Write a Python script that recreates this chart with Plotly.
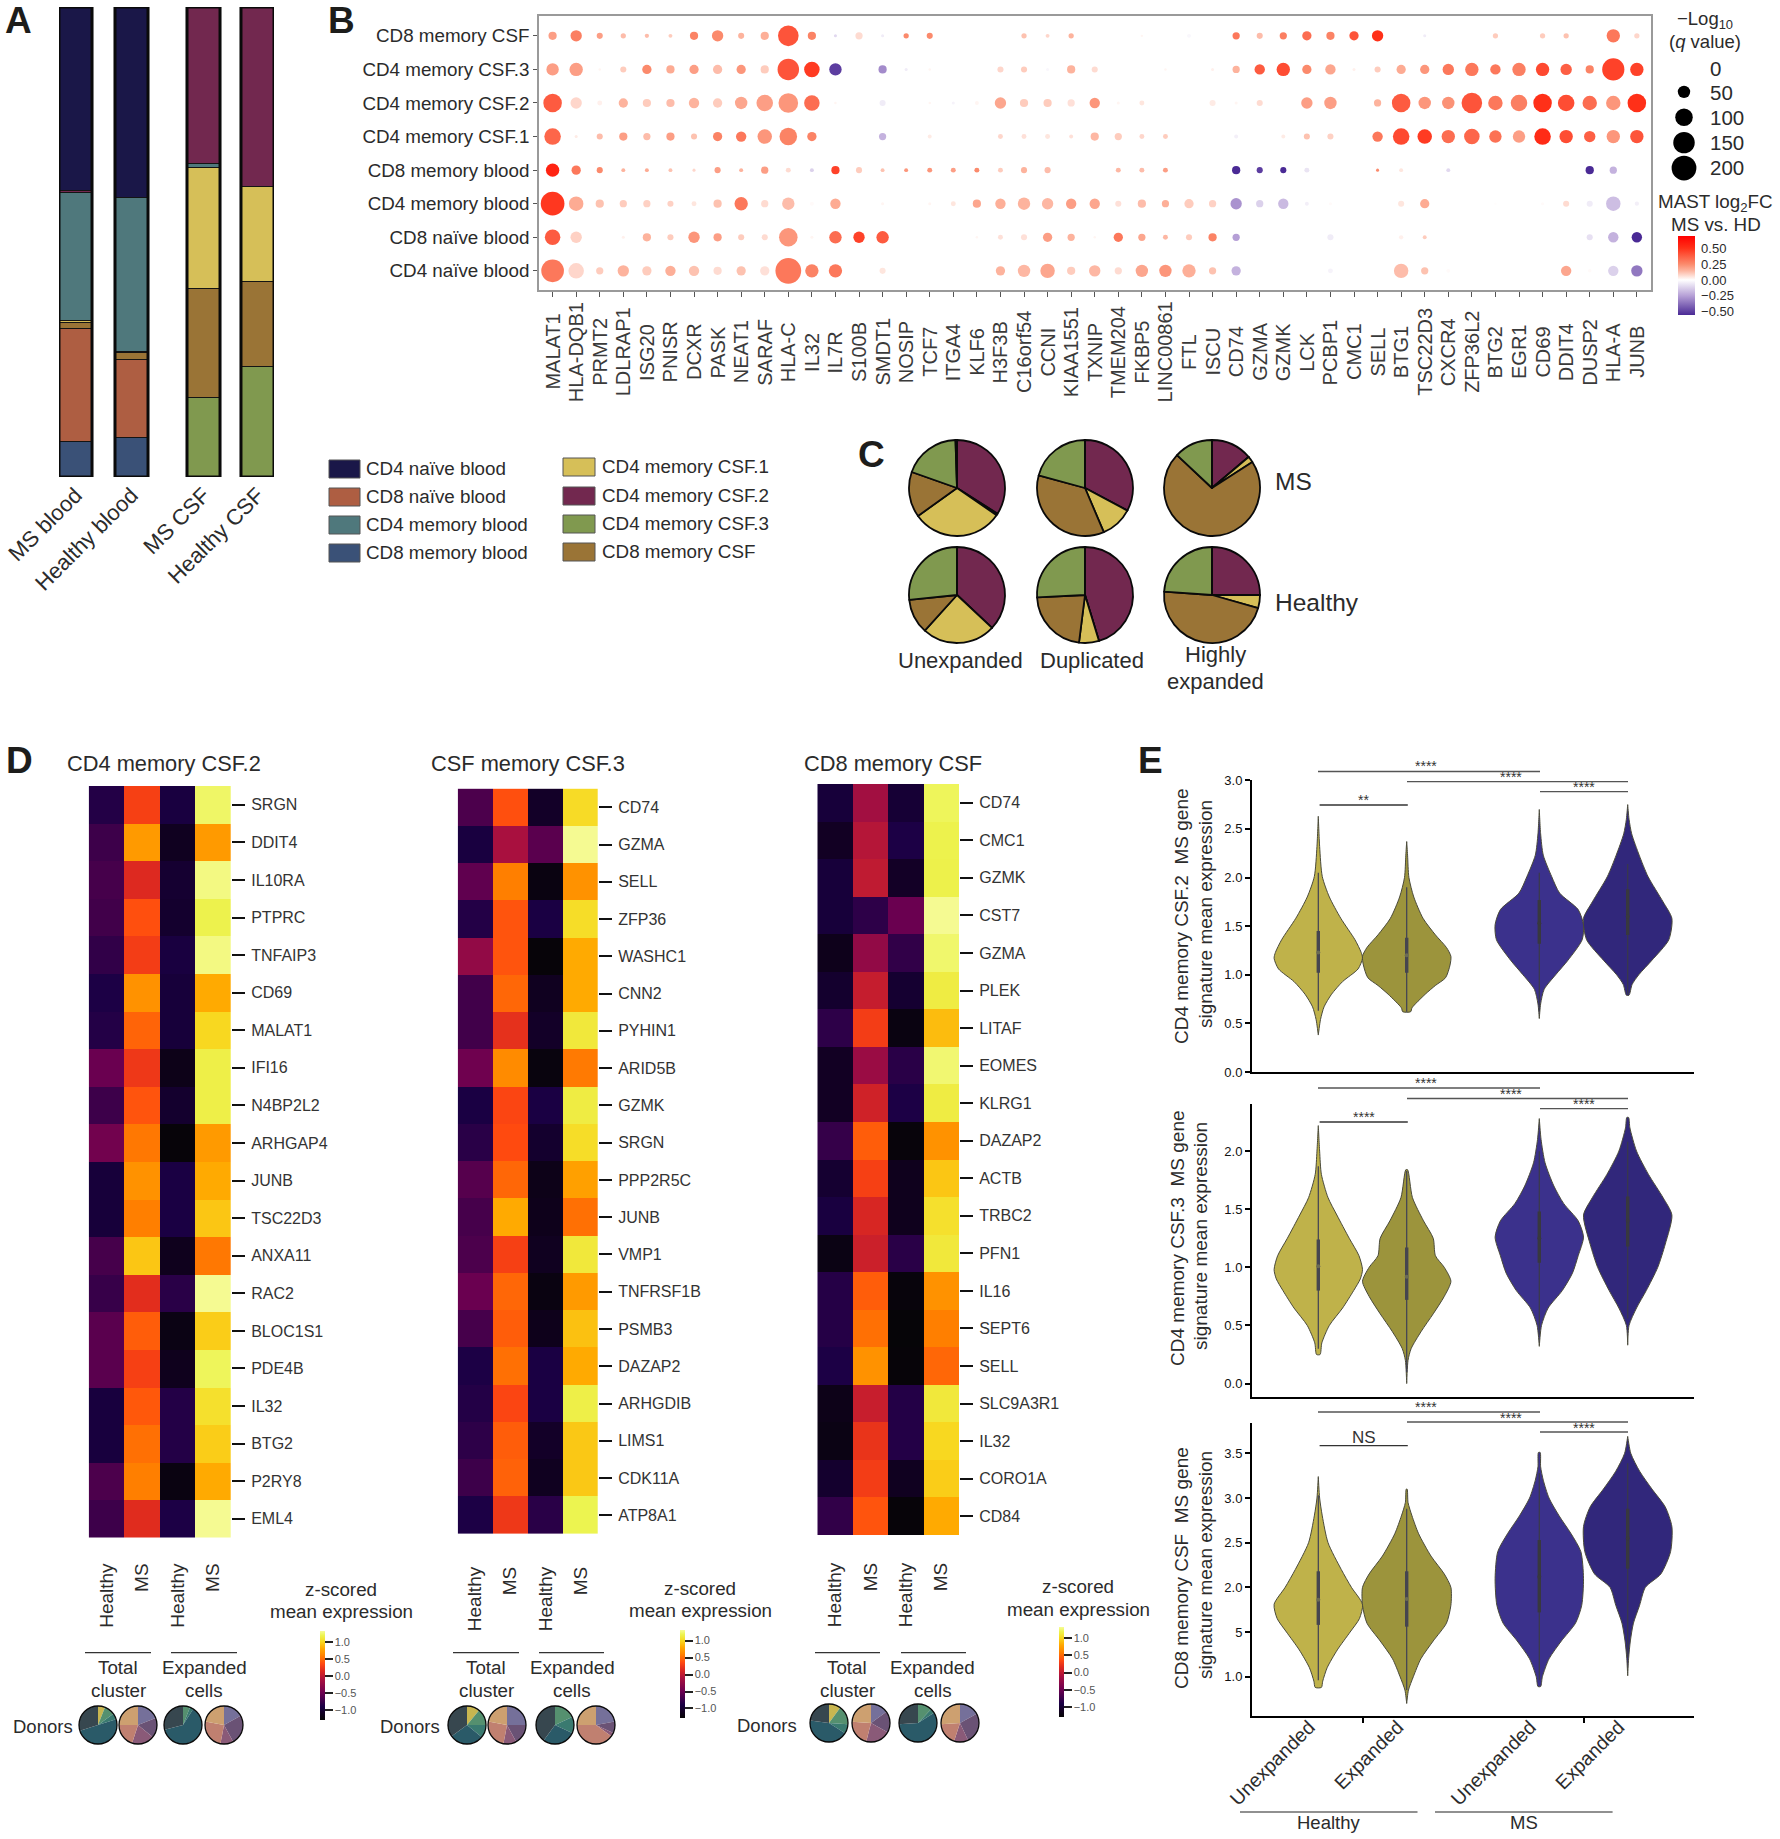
import plotly.graph_objects as go

W, H = 1780, 1839
FONT = "Liberation Sans, Arial, sans-serif"
INK = "#2b2b2b"

# ---------- Panel A ----------
sample_names = ["MS blood", "Healthy blood", "MS CSF", "Healthy CSF"]
sample_pos = [0, 1, 2.286, 3.25]
cluster_stack = ["CD4 memory CSF.3", "CD8 memory blood", "CD8 naïve blood", "CD8 memory CSF",
                 "CD4 memory CSF.1", "CD4 memory blood", "CD4 memory CSF.2", "CD4 naïve blood"]
share_csf3 = [0, 0, 16.8, 23.5]
share_cd8mem_blood = [7.4, 8.2, 0, 0]
share_cd8naive = [24.1, 16.8, 0, 0]
share_cd8csf = [1.3, 1.3, 23.1, 17.9]
share_csf1 = [0.3, 0.3, 25.9, 20.4]
share_cd4mem_blood = [27.4, 32.7, 0.8, 0]
share_csf2 = [0.4, 0, 33.4, 38.2]
share_cd4naive = [39.1, 40.7, 0, 0]
cluster_colors = {"CD4 naïve blood": "#1a1748", "CD8 naïve blood": "#ae5e42", "CD4 memory blood": "#4f787c",
                  "CD8 memory blood": "#3a5177", "CD4 memory CSF.1": "#d6bf58", "CD4 memory CSF.2": "#72284f",
                  "CD4 memory CSF.3": "#80994f", "CD8 memory CSF": "#9a7436"}

# ---------- Panel B ----------
dot_genes = ["MALAT1", "HLA-DQB1", "PRMT2", "LDLRAP1", "ISG20", "PNISR", "DCXR", "PASK", "NEAT1", "SARAF",
             "HLA-C", "IL32", "IL7R", "S100B", "SMDT1", "NOSIP", "TCF7", "ITGA4", "KLF6", "H3F3B",
             "C16orf54", "CCNI", "KIAA1551", "TXNIP", "TMEM204", "FKBP5", "LINC00861", "FTL", "ISCU", "CD74",
             "GZMA", "GZMK", "LCK", "PCBP1", "CMC1", "SELL", "BTG1", "TSC22D3", "CXCR4", "ZFP36L2",
             "BTG2", "EGR1", "CD69", "DDIT4", "DUSP2", "HLA-A", "JUNB"]
dot_rows = ["CD4 naïve blood", "CD8 naïve blood", "CD4 memory blood", "CD8 memory blood",
            "CD4 memory CSF.1", "CD4 memory CSF.2", "CD4 memory CSF.3", "CD8 memory CSF"]
q_cd8csf = [22,42,12,9,6,5,22,42,12,22, 138,22,3,17,3,9,12,0,0,0, 9,5,9,0,0,1,0,5,0,17, 12,17,28,22,28,42,0,3,0,0, 9,0,9,9,0,58,9]
fc_cd8csf = [.2,.28,.2,.13,.13,.1,.27,.25,.15,.16, .4,.27,-.1,.07,-.05,.25,.25,0,0,0, .12,.08,.15,0,0,.02,0,-.02,0,.3, .13,.28,.33,.27,.4,.5,0,-.05,0,0, .1,0,.1,.12,0,.3,.08]
q_csf3 = [50,58,2,12,28,22,28,28,28,22, 150,78,50,0,22,3,2,0,0,12, 12,3,22,12,0,0,2,0,3,17, 35,58,28,35,3,12,28,28,42,58, 35,58,58,42,22,160,58]
fc_csf3 = [.2,.2,.02,.1,.25,.17,.2,.13,.22,.1, .4,.47,-.5,0,-.3,-.05,.02,0,0,.08, .1,-.02,.15,.07,0,0,.02,0,.03,.15, .38,.42,.25,.18,.03,.1,.17,.22,.3,.3, .3,.28,.43,.37,.27,.45,.45]
q_csf2 = [112,42,8,28,22,22,35,28,50,89, 125,78,2,0,12,0,2,3,5,42, 22,22,17,35,3,8,0,0,12,3, 12,0,42,50,0,17,112,50,50,138, 68,89,112,89,68,68,112]
fc_csf2 = [.38,.08,.03,.15,.1,.13,.15,.1,.18,.2, .22,.33,.02,0,-.05,0,.02,-.03,.02,.18, .1,.1,.06,.22,.02,.05,0,0,.04,.02, .07,0,.2,.2,0,.15,.38,.22,.23,.4, .3,.28,.5,.42,.33,.22,.5]
q_csf1 = [89,3,12,22,17,22,12,28,35,68, 100,28,0,0,17,0,5,0,0,8, 8,8,5,22,17,8,8,0,0,5, 0,5,12,12,0,35,89,68,58,78, 50,50,89,58,42,58,58]
fc_csf1 = [.35,.04,.13,.2,.13,.2,.12,.27,.3,.22, .27,.27,0,0,-.2,0,.04,0,0,.08, .06,.05,.06,.14,.1,.08,.1,0,0,-.04, 0,.04,.12,.09,0,.3,.43,.47,.33,.35, .32,.2,.52,.42,.37,.22,.4]
q_cd8memb = [58,28,12,5,5,5,3,12,5,17, 8,5,22,12,5,5,8,8,8,8, 12,12,0,0,8,8,8,0,0,22, 12,12,8,0,0,3,5,0,5,0, 0,0,0,0,22,17,0]
fc_cd8memb = [.55,.3,.25,.15,.17,.12,.08,.2,.15,.2, .07,-.12,.45,.1,.12,.22,.22,.2,.25,.1, .15,.13,0,0,.14,.13,.2,0,0,-.55, -.5,-.55,-.07,0,0,.25,.05,0,-.1,0, 0,0,0,0,-.58,-.2,0]
q_cd4memb = [183,68,22,17,17,12,8,22,58,17, 50,5,35,0,3,0,3,8,22,35, 50,42,35,35,12,22,17,28,17,42, 17,35,5,3,0,0,12,28,0,0, 1,0,3,12,12,68,6]
fc_cd4memb = [.48,.17,.12,.1,.09,.09,.05,.12,.3,.07, .13,.01,.17,0,.02,0,.02,.05,.18,.16, .15,.14,.2,.18,.06,.13,.16,.1,.09,-.28, -.12,-.18,-.04,.01,0,0,.05,.17,0,0, .005,0,.01,.07,-.05,-.17,-.04]
q_cd8nv = [78,42,0,3,22,12,42,22,12,12, 112,3,50,42,50,0,0,0,2,8, 12,28,17,2,28,17,8,12,22,17, 0,0,0,12,0,0,6,5,0,0, 0,0,0,0,12,35,35]
fc_cd8nv = [.38,.09,0,.03,.15,.1,.22,.2,.1,.07, .22,.02,.33,.45,.38,0,0,0,.02,.06, .06,.2,.15,.02,.3,.18,.14,.1,.27,-.25, 0,0,0,-.05,0,0,.03,.1,0,0, 0,0,0,0,-.08,-.2,-.55]
q_cd4nv = [167,78,17,42,28,35,35,22,28,28, 216,58,58,0,12,0,0,0,0,28, 50,68,22,42,17,50,50,58,17,28, 0,0,0,8,0,0,68,17,5,0, 0,0,0,35,4,35,42]
fc_cd4nv = [.3,.08,.1,.15,.1,.16,.12,.07,.12,.06, .3,.27,.3,0,.05,0,0,0,0,.15, .14,.18,.1,.14,.07,.18,.22,.16,.12,-.2, 0,0,0,-.03,0,0,.13,.12,.01,0, 0,0,0,.18,.01,-.12,-.35]
size_legend_q = [0, 50, 100, 150, 200]
fc_colorscale = [[0, "#4a2a95"], [.242, "#b59fd6"], [.444, "#ffffff"], [.56, "#fdb5a0"], [.645, "#fb8a6c"], [.847, "#ff3018"], [1, "#ff0000"]]

# ---------- Panel C ----------
pie_clusters = ["CD4 memory CSF.2", "CD4 memory blood", "CD4 memory CSF.1", "CD8 memory CSF", "CD4 memory CSF.3", "CD4 naïve blood"]
pie_ms_unexp = [34.0, 0.6, 30.5, 15.3, 19.1, 0.5]
pie_ms_dup = [32.8, 0, 10.8, 35.6, 20.8, 0]
pie_ms_high = [13.8, 0, 2.1, 71.1, 13.0, 0]
pie_hc_unexp = [37.0, 0, 24.7, 11.7, 26.6, 0]
pie_hc_dup = [45.3, 0, 6.7, 22.2, 25.8, 0]
pie_hc_high = [25.0, 0, 4.4, 46.7, 23.9, 0]

# ---------- Panel D ----------
heat_cols = ["Healthy", "MS", "Healthy", "MS"]
genes_csf2 = ["SRGN","DDIT4","IL10RA","PTPRC","TNFAIP3","CD69","MALAT1","IFI16","N4BP2L2","ARHGAP4",
              "JUNB","TSC22D3","ANXA11","RAC2","BLOC1S1","PDE4B","IL32","BTG2","P2RY8","EML4"]
z_csf2 = [[-.85,.30,-.92,1.22],[-.72,.72,-1.1,.72],[-.68,.15,-1.0,1.27],[-.7,.38,-1.02,1.17],[-.78,.28,-.92,1.27],
          [-.88,.68,-.95,.8],[-.85,.47,-.95,1.0],[-.5,.25,-1.15,1.15],[-.72,.4,-1.02,1.15],[-.45,.55,-1.25,.72],
          [-.95,.68,-.9,.8],[-.95,.58,-.9,.92],[-.68,.92,-1.12,.55],[-.75,.18,-.82,1.3],[-.58,.44,-1.18,.95],
          [-.58,.3,-1.12,1.2],[-.93,.42,-.85,1.05],[-.93,.52,-.85,.95],[-.65,.58,-1.2,.8],[-.72,.17,-.88,1.3]]
genes_csf3 = ["CD74","GZMA","SELL","ZFP36","WASHC1","CNN2","PYHIN1","ARID5B","GZMK","SRGN",
              "PPP2R5C","JUNB","VMP1","TNFRSF1B","PSMB3","DAZAP2","ARHGDIB","LIMS1","CDK11A","ATP8A1"]
z_csf3 = [[-.65,.38,-1.05,1.02],[-.92,-.11,-.58,1.3],[-.55,.58,-1.2,.68],[-.85,.4,-.9,1.03],[-.25,.4,-1.25,.8],
          [-.7,.48,-1.1,.8],[-.7,.2,-1.05,1.1],[-.47,.64,-1.22,.56],[-.9,.33,-.9,1.13],[-.82,.36,-1.02,1.03],
          [-.6,.48,-1.15,.75],[-.68,.8,-1.13,.52],[-.65,.3,-1.1,1.1],[-.5,.48,-1.2,.72],[-.68,.44,-1.13,.9],
          [-.88,.52,-.9,.8],[-.85,.33,-.9,1.15],[-.8,.44,-1.05,.93],[-.72,.46,-1.1,.93],[-.88,.25,-.82,1.18]]
genes_cd8 = ["CD74","CMC1","GZMK","CST7","GZMA","PLEK","LITAF","EOMES","KLRG1","DAZAP2",
             "ACTB","TRBC2","PFN1","IL16","SEPT6","SELL","SLC9A3R1","IL32","CORO1A","CD84"]
z_cd8 = [[-.95,-.15,-.98,1.2],[-1.08,-.05,-.88,1.17],[-.95,.0,-1.06,1.16],[-.95,-.8,-.5,1.3],[-1.13,-.25,-.78,1.23],
         [-1.02,.03,-1.0,1.13],[-.8,.28,-1.2,.88],[-1.08,-.2,-.82,1.24],[-1.08,.08,-.88,1.13],[-.76,.44,-1.24,.68],
         [-1.0,.3,-1.12,.92],[-.92,.12,-1.12,1.05],[-1.18,.06,-.82,1.1],[-.84,.44,-1.23,.68],[-.84,.52,-1.26,.58],
         [-.88,.68,-1.25,.48],[-1.15,.04,-.85,1.1],[-1.18,.22,-.85,1.0],[-1.02,.28,-1.1,.95],[-.78,.4,-1.25,.8]]
heat_colorscale = [[0, "#050505"], [.08, "#120024"], [.15, "#1a0045"], [.3, "#6a0050"], [.45, "#a81040"],
                   [.55, "#dc2820"], [.63, "#ff4810"], [.72, "#ff8000"], [.8, "#ffa800"], [.88, "#f8d820"],
                   [.95, "#ecf450"], [1, "#f6fb98"]]
donor_h_colors = ["#c8b650", "#55906f", "#3a7a70", "#2a5a68", "#37474f"]
donor_m_colors = ["#75709a", "#6a5275", "#8a5a78", "#c08070", "#cda070"]
donors_p1 = [[6, 9, 5, 50, 30], [19, 17, 19, 20, 25], [0, 6, 3, 62, 29], [17, 25, 11, 25, 22]]
donors_p2 = [[11, 14, 11, 29, 35], [25, 17, 11, 25, 22], [0, 18, 14, 28, 40], [22, 10, 3, 40, 25]]
donors_p3 = [[10, 16, 8, 43, 23], [15, 18, 21, 22, 24], [0, 12, 4, 58, 26], [17, 26, 12, 19, 26]]

# ---------- Panel E ----------
violin_pos = [0, 1, 2.5, 3.5]
violin_names = ["Unexpanded", "Expanded", "Unexpanded", "Expanded"]
violin_colors = ["#bfb24a", "#9c943c", "#3b318c", "#31277b"]
whisker_colors = ["#3f3f55", "#3f3f55", "#3a3a4a", "#3a3a4a"]
box_colors = ["#45454f", "#45454f", "#38383f", "#38383f"]
median_colors = ["#6b6b55", "#6b6b55", "#38383f", "#38383f"]
e1_y = [[.38,.54,.67,.8,.93,1.06,1.17,1.23,1.36,1.58,1.8,2.01,2.32,2.63],
        [.62,.66,.8,.89,.97,1.1,1.19,1.28,1.41,1.58,1.8,2.0,2.23,2.37],
        [.55,.7,.85,1.0,1.15,1.36,1.515,1.67,1.84,2.01,2.23,2.45,2.7],
        [.79,.9,1.0,1.15,1.36,1.58,1.75,2.01,2.23,2.45,2.6,2.75]]
e1_w = [[0,.05,.13,.3,.55,.9,1,.97,.83,.51,.25,.09,.03,0],
        [.09,.12,.42,.65,.88,.98,1,.9,.65,.37,.16,.05,.02,0],
        [0,.03,.11,.37,.65,.97,1,.88,.46,.28,.09,.03,0],
        [.03,.1,.25,.55,.93,1,.8,.46,.26,.09,.03,0]]
e1_stats = [[.63,1.02,1.23,1.45,2.05],[.62,1.02,1.2,1.38,1.9],[.63,1.32,1.53,1.77,2.05],[.8,1.41,1.6,1.88,2.14]]
e2_y = [[.25,.35,.5,.65,.8,.9,.98,1.1,1.25,1.45,1.6,1.8,2.0,2.22],
        [0,.2,.3,.45,.6,.75,.88,1.0,1.1,1.25,1.4,1.6,1.84],
        [.32,.5,.65,.8,.95,1.1,1.26,1.4,1.55,1.7,1.9,2.1,2.28],
        [.33,.5,.65,.8,1.0,1.2,1.45,1.6,1.8,2.0,2.2,2.29]]
e2_w = [[.04,.08,.25,.55,.8,.95,1,.92,.7,.42,.22,.07,.03,0],
        [0,.03,.1,.33,.6,.85,1,.85,.65,.6,.38,.13,.02],
        [0,.05,.2,.52,.75,.88,1,.88,.55,.33,.13,.04,0],
        [0,.03,.2,.42,.68,.85,1,.8,.47,.2,.05,.02]]
e2_stats = [[.3,.8,1.01,1.24,1.87],[.1,.72,.92,1.17,1.83],[.42,1.04,1.25,1.48,2.0],[.56,1.18,1.4,1.61,2.08]]
e3_y = [[.88,.95,1.1,1.3,1.5,1.65,1.81,2.0,2.2,2.5,2.8,3.0,3.24],
        [.7,.85,1.0,1.2,1.4,1.6,1.8,2.0,2.15,2.35,2.6,2.8,2.95,3.1],
        [.89,1.0,1.2,1.4,1.6,1.8,2.1,2.4,2.6,2.8,3.0,3.2,3.35,3.51],
        [1.01,1.2,1.4,1.6,1.8,2.0,2.15,2.4,2.68,2.9,3.1,3.3,3.5,3.69]]
e3_w = [[.07,.1,.2,.43,.72,.93,1,.75,.52,.22,.09,.03,0],
        [0,.04,.15,.32,.6,.9,1,1,.85,.55,.27,.12,.03,.01],
        [.03,.07,.22,.5,.82,.96,1,.94,.72,.45,.22,.09,.03,.02],
        [0,.02,.06,.13,.27,.4,.75,.97,1,.85,.55,.27,.07,0]]
e3_stats = [[.96,1.58,1.86,2.18,3.03],[.85,1.56,1.87,2.18,2.88],[.96,1.72,2.12,2.53,3.28],[1.22,2.21,2.55,2.88,3.39]]

# ---------- helpers ----------
fig = go.Figure()
layout = {}
annotations, shapes = [], []
_n = [0]

def new_axes(x0, x1, y0, y1, xopts=None, yopts=None):
    _n[0] += 1
    n = _n[0]
    sx = "" if n == 1 else str(n)
    base = dict(showgrid=False, zeroline=False, showline=False, ticks="", showticklabels=False, fixedrange=True)
    xa = dict(base, domain=[x0 / W, x1 / W], anchor="y" + sx)
    ya = dict(base, domain=[1 - y1 / H, 1 - y0 / H], anchor="x" + sx)
    xa.update(xopts or {})
    ya.update(yopts or {})
    layout["xaxis" + sx] = xa
    layout["yaxis" + sx] = ya
    return "x" + sx, "y" + sx

def text(x, y, s, size=18, anchor="center", angle=0, color=INK, bold=False):
    annotations.append(dict(x=x / W, y=1 - y / H, xref="paper", yref="paper", text=("<b>%s</b>" % s) if bold else s,
                            showarrow=False, xanchor=anchor, yanchor="middle", textangle=angle,
                            font=dict(family=FONT, size=size, color=color)))

def rule(x0, x1, y, color="#333", width=1.2):
    shapes.append(dict(type="line", xref="paper", yref="paper", x0=x0 / W, x1=x1 / W, y0=1 - y / H, y1=1 - y / H,
                       line=dict(color=color, width=width)))

def pie(cx, cy, r, values, colors, lw, labels=None):
    fig.add_trace(go.Pie(values=values, labels=labels or [str(i) for i in range(len(values))], sort=False, direction="clockwise", rotation=0,
                         marker=dict(colors=colors, line=dict(color="#0a0a0a", width=lw)), textinfo="none",
                         hoverinfo="skip", showlegend=False,
                         domain=dict(x=[(cx - r) / W, (cx + r) / W], y=[1 - (cy + r) / H, 1 - (cy - r) / H])))

def ring(cx, cy, r, lw):
    shapes.append(dict(type="circle", xref="paper", yref="paper", x0=(cx - r) / W, x1=(cx + r) / W,
                       y0=1 - (cy + r) / H, y1=1 - (cy - r) / H, line=dict(color="#0a0a0a", width=lw)))

# ---------- draw panel A ----------
xa, ya = new_axes(59, 274, 7, 477,
                  dict(range=[-0.295, 3.545], tickmode="array", tickvals=sample_pos, ticktext=sample_names,
                       showticklabels=True, tickangle=-45, tickfont=dict(family=FONT, size=22, color=INK)),
                  dict(range=[0, 100]))
stack_vals = [share_csf3, share_cd8mem_blood, share_cd8naive, share_cd8csf, share_csf1, share_cd4mem_blood, share_csf2, share_cd4naive]
for name, vals in zip(cluster_stack, stack_vals):
    fig.add_trace(go.Bar(x=sample_pos, y=vals, name=name, width=0.59, marker=dict(color=cluster_colors[name], line=dict(color="#141414", width=1)),
                         xaxis=xa, yaxis=ya, showlegend=False, hoverinfo="skip"))
fig.add_trace(go.Scatter(x=[p for s in sample_pos for p in (s - .295, s + .295, s + .295, s - .295, s - .295, None)],
                         y=[v for s in sample_pos for v in (0, 0, 100, 100, 0, None)], mode="lines", cliponaxis=False,
                         line=dict(color="#0a0a0a", width=3), xaxis=xa, yaxis=ya, showlegend=False, hoverinfo="skip"))

# legend of clusters
leg_left = ["CD4 naïve blood", "CD8 naïve blood", "CD4 memory blood", "CD8 memory blood"]
leg_right = ["CD4 memory CSF.1", "CD4 memory CSF.2", "CD4 memory CSF.3", "CD8 memory CSF"]
for names, x0, x1, tx, ys in ((leg_left, 329, 360, 364, (460, 488, 516, 544)), (leg_right, 563, 595, 599.5, (458, 487, 515, 543))):
    for nm, y in zip(names, ys):
        shapes.append(dict(type="rect", xref="paper", yref="paper", x0=x0 / W, x1=x1 / W, y0=1 - (y + 18) / H, y1=1 - y / H,
                           fillcolor=cluster_colors[nm], line=dict(color="#555", width=1)))
        text(tx, y + 8.5, nm, size=18.8, anchor="left")

# ---------- draw panel B ----------
row_q = [q_cd4nv, q_cd8nv, q_cd4memb, q_cd8memb, q_csf1, q_csf2, q_csf3, q_cd8csf]
row_fc = [fc_cd4nv, fc_cd8nv, fc_cd4memb, fc_cd8memb, fc_csf1, fc_csf2, fc_csf3, fc_cd8csf]
xs, ys, qs, fcs = [], [], [], []
for rn, q, fc in zip(dot_rows, row_q, row_fc):
    for g, a, b in zip(dot_genes, q, fc):
        if a > 0:
            xs.append(g); ys.append(rn); qs.append(a); fcs.append(b)
frame = dict(showline=True, linecolor="#9a9a9a", linewidth=1.6, mirror=True)
xa, ya = new_axes(539, 1651, 15.7, 290,
                  dict(frame, type="category", categoryorder="array", categoryarray=dot_genes, tickmode="array", tickvals=dot_genes,
                       range=[-0.577, 46.6], ticks="outside", ticklen=5, tickcolor="#555", tickwidth=1),
                  dict(frame, type="category", categoryorder="array", categoryarray=dot_rows, range=[-0.57, 7.6], tickmode="array", tickvals=dot_rows,
                       showticklabels=True, ticks="outside", ticklen=4, tickcolor="#555", tickwidth=1,
                       tickfont=dict(family=FONT, size=18.8, color=INK)))
fig.add_trace(go.Scatter(x=xs, y=ys, mode="markers", xaxis=xa, yaxis=ya, showlegend=False, hoverinfo="skip",
                         marker=dict(size=qs, sizemode="area", sizeref=0.65, sizemin=1.2, color=fcs, cmin=-.55, cmax=.69, opacity=1,
                                     colorscale=fc_colorscale, line=dict(width=0),
                                     colorbar=dict(thickness=17, len=79, lenmode="pixels", x=1678 / W, xanchor="left", y=1 - 236 / H, yanchor="top",
                                                   xpad=0, ypad=0, outlinewidth=0, ticks="outside", ticklen=4, tickcolor="white", tickmode="array",
                                                   tickvals=[-.5, -.25, 0, .25, .5], ticktext=["−0.50", "−0.25", "0.00", "0.25", "0.50"],
                                                   tickfont=dict(family=FONT, size=13, color=INK), ticklabelposition="outside"))))
for i, g in enumerate(dot_genes):
    annotations.append(dict(x=i, xref=xa, y=1 - 352 / H, yref="paper", text=g, showarrow=False, textangle=-90,
                            xanchor="center", yanchor="middle", font=dict(family=FONT, size=20, color="#3a3a3a")))
# size legend
xl, yl = new_axes(1664, 1704, 55, 182, dict(range=[0, 1]), dict(type="category", categoryorder="array",
                  categoryarray=["200", "150", "100", "50", "0"], range=[-0.55, 4.45]))
fig.add_trace(go.Scatter(x=[.5] * 5, y=[str(v) for v in size_legend_q], mode="markers", xaxis=xl, yaxis=yl, showlegend=False, hoverinfo="skip",
                         marker=dict(size=size_legend_q, sizemode="area", sizeref=0.65, sizemin=1.6, color="#000", opacity=1, line=dict(width=0))))
for v, y in zip(size_legend_q, (69, 93, 117, 142, 168)):
    text(1708, y, str(v), size=20.5, anchor="left")
text(1705, 20, "−Log<sub>10</sub>", size=18.5)
text(1705, 41, "(<i>q</i> value)", size=18.5)
text(1715.5, 203, "MAST log<sub>2</sub>FC", size=18.8)
text(1715.5, 225, "MS vs. HD", size=18.8)

# ---------- draw panel C ----------
pc = [cluster_colors[c] for c in pie_clusters]
for cx, v in zip((957, 1085, 1212), (pie_ms_unexp, pie_ms_dup, pie_ms_high)):
    pie(cx, 488, 48, v, pc, 1.8, pie_clusters)
for cx, v in zip((957, 1085, 1212), (pie_hc_unexp, pie_hc_dup, pie_hc_high)):
    pie(cx, 595, 48, v, pc, 1.8, pie_clusters)
text(1273, 481, "MS", size=24.5, anchor="left")
text(1273, 602, "Healthy", size=24.5, anchor="left")
text(961, 660, "Unexpanded", size=22)
text(1092, 660, "Duplicated", size=22)
text(1215, 655, "Highly", size=22)
text(1215, 681, "expanded", size=22)

# ---------- draw panel D ----------
panels = [
    dict(title="CD4 memory CSF.2", tx=65, x0=88.7, x1=231, y0=786, y1=1537.6, genes=genes_csf2, z=z_csf2, stand=21,
         cb=(320, 1631, 89), line1=(85, 151), line2=(171, 237), tot=118, exp=204, don=74.5, pies=(98, 138, 183, 224), py=1725, don_y=1726,
         zt=(341, 1589, 1611), donors=donors_p1),
    dict(title="CSF memory CSF.3", tx=429, x0=457.7, x1=598, y0=788.6, y1=1534, genes=genes_csf3, z=z_csf3, stand=28,
         cb=(680, 1630, 88), line1=(453, 519), line2=(539, 604), tot=486, exp=572, don=442, pies=(467, 507, 555, 596), py=1725, don_y=1726,
         zt=(700, 1588, 1610), donors=donors_p2),
    dict(title="CD8 memory CSF", tx=802, x0=817.3, x1=959, y0=784, y1=1535, genes=genes_cd8, z=z_cd8, stand=23,
         cb=(1059, 1627, 90), line1=(815, 880), line2=(901, 966), tot=847, exp=933, don=799, pies=(829, 871, 918, 960), py=1723, don_y=1725,
         zt=(1078, 1586, 1609), donors=donors_p3),
]
for p in panels:
    xa, ya = new_axes(p["x0"], p["x1"], p["y0"], p["y1"],
                      dict(tickmode="array", tickvals=[0, 1, 2, 3], ticktext=heat_cols, showticklabels=True, tickangle=-90,
                           ticklabelstandoff=p["stand"], range=[-.5, 3.5], tickfont=dict(family=FONT, size=19, color=INK)),
                      dict(side="right", autorange="reversed", showticklabels=True, ticks="outside", ticklen=13, tickwidth=1.8, tickcolor="#111",
                           ticklabelstandoff=3, tickfont=dict(family=FONT, size=16, color="#333"), tickmode="array", tickvals=p["genes"]))
    cbx, cby, cbl = p["cb"]
    fig.add_trace(go.Heatmap(z=p["z"], x=[0, 1, 2, 3], y=p["genes"], xaxis=xa, yaxis=ya, zmin=-1.28, zmax=1.31, colorscale=heat_colorscale,
                             hoverinfo="skip", xgap=0, ygap=0,
                             colorbar=dict(thickness=4.5, len=cbl, lenmode="pixels", x=cbx / W, xanchor="left", y=1 - cby / H, yanchor="top",
                                           xpad=0, ypad=0, outlinewidth=0, ticks="outside", ticklen=8, tickwidth=1.6, tickcolor="#222",
                                           tickvals=[-1, -.5, 0, .5, 1], ticktext=["−1.0", "−0.5", "0.0", "0.5", "1.0"],
                                           tickfont=dict(family=FONT, size=11, color="#555"))))
    text(p["tx"], 763.5, p["title"], size=21.8, anchor="left")
    rule(*p["line1"], 1652.7)
    rule(*p["line2"], 1652.7)
    text(p["tot"], 1667, "Total", size=18.8)
    text(p["tot"], 1690, "cluster", size=18.8)
    text(p["exp"], 1667, "Expanded", size=18.8)
    text(p["exp"], 1690, "cells", size=18.8)
    text(p["don"], p["don_y"], "Donors", size=18.5, anchor="right")
    for cx, v, cols in zip(p["pies"], p["donors"], (donor_h_colors, donor_m_colors, donor_h_colors, donor_m_colors)):
        pie(cx, p["py"], 19, v, cols, 0)
        ring(cx, p["py"], 19, 1.3)
    text(p["zt"][0], p["zt"][1], "z-scored", size=18.8)
    text(p["zt"][0], p["zt"][2], "mean expression", size=18.8)

# ---------- draw panel E ----------
def violins(x0, x1, y0, y1, yrange, tickvals, ticktext, vy, vw, stats, bottom_labels=False):
    xopts = dict(range=[-.75, 4.25], showline=True, linecolor="#000", linewidth=2)
    if bottom_labels:
        xopts.update(tickmode="array", tickvals=violin_pos, ticktext=violin_names, showticklabels=True, tickangle=-45,
                     tickfont=dict(family=FONT, size=19.5, color=INK), ticklabelshift=-9, ticklabelstandoff=-10,
                     minor=dict(tickmode="array", tickvals=[.5, 3], ticks="outside", ticklen=5, tickwidth=2, tickcolor="#000"))
    xa, ya = new_axes(x0, x1, y0, y1, xopts,
                      dict(range=yrange, showline=True, linecolor="#000", linewidth=2, ticks="outside", ticklen=5, tickwidth=2, tickcolor="#000",
                           showticklabels=True, tickmode="array", tickvals=tickvals, ticktext=ticktext,
                           tickfont=dict(family=FONT, size=13, color="#111")))
    for pos, col, wc, bc, mc, ys_, ws_, st in zip(violin_pos, violin_colors, whisker_colors, box_colors, median_colors, vy, vw, stats):
        px = [pos + w * .5 for w in ws_] + [pos - w * .5 for w in reversed(ws_)]
        py = list(ys_) + list(reversed(ys_))
        fig.add_trace(go.Scatter(x=px + px[:1], y=py + py[:1], mode="lines", fill="toself", fillcolor=col, xaxis=xa, yaxis=ya,
                                 line=dict(color="#4a4a3a", width=1, shape="spline", smoothing=0.7), showlegend=False, hoverinfo="skip"))
        fig.add_trace(go.Scatter(x=[pos, pos], y=[st[0], st[4]], mode="lines", xaxis=xa, yaxis=ya, line=dict(color=wc, width=1.2),
                                 showlegend=False, hoverinfo="skip"))
        fig.add_trace(go.Scatter(x=[pos, pos], y=[st[1], st[3]], mode="lines", xaxis=xa, yaxis=ya, line=dict(color=bc, width=3.4),
                                 showlegend=False, hoverinfo="skip"))
        fig.add_trace(go.Scatter(x=[pos], y=[st[2]], mode="markers", xaxis=xa, yaxis=ya, marker=dict(color=mc, size=4, symbol="circle"),
                                 showlegend=False, hoverinfo="skip"))

violins(1252, 1694, 780.3, 1072, [0, 3], [0, .5, 1, 1.5, 2, 2.5, 3], ["0.0", "0.5", "1.0", "1.5", "2.0", "2.5", "3.0"], e1_y, e1_w, e1_stats)
violins(1252, 1694, 1103.5, 1397, [-.116, 2.41], [0, .5, 1, 1.5, 2], ["0.0", "0.5", "1.0", "1.5", "2.0"], e2_y, e2_w, e2_stats)
violins(1252, 1694, 1423, 1716, [.56, 3.84], [1, 1.5, 2, 2.5, 3, 3.5], ["1.0", "5", "2.0", "2.5", "3.0", "3.5"], e3_y, e3_w, e3_stats, bottom_labels=True)

for (y1, s1), (y2, s2), (y3, s3), (y4, s4, lab) in (
        ((771.5, 766), (781.6, 777), (791.7, 787), (805, 800, "**")),
        ((1088, 1083), (1098.5, 1094), (1108.6, 1104), (1122, 1117, "****")),
        ((1412, 1406.7), (1422, 1417.7), (1432, 1428), (1445.7, 1437.7, "NS"))):
    rule(1318, 1540, y1, color="#555", width=1.3); text(1426, s1, "****", size=14, color="#333")
    rule(1407, 1628, y2, color="#555", width=1.3); text(1510.6, s2, "****", size=14, color="#333")
    rule(1540, 1628, y3, color="#555", width=1.3); text(1583.7, s3, "****", size=14, color="#333")
    rule(1319.6, 1407.8, y4, color="#333", width=1.3)
    text(1363.7, s4, lab, size=17 if lab == "NS" else 14, color="#333")

for x1_, x2_, c1, c2, t1 in ((1181, 1205, 916, 914, "CD4 memory CSF.2  MS gene"),
                             (1177, 1200, 1238, 1236, "CD4 memory CSF.3  MS gene"),
                             (1181, 1205, 1568, 1565, "CD8 memory CSF  MS gene")):
    text(x1_, c1, t1, size=19, angle=-90)
    text(x2_, c2, "signature mean expression", size=19, angle=-90)
rule(1240, 1417.5, 1812, color="#222")
rule(1435, 1612.6, 1812, color="#222")
text(1328.6, 1822, "Healthy", size=18.5)
text(1523.7, 1822, "MS", size=18.5)

# panel letters
for lab, x, y in (("A", 3, 20), ("B", 326, 20), ("C", 856, 455), ("D", 4, 760), ("E", 1136, 760)):
    text(x, y, lab, size=37, anchor="left", color="#1d1d1b", bold=True)

fig.update_layout(width=W, height=H, margin=dict(l=0, r=0, t=0, b=0, autoexpand=False), paper_bgcolor="white", plot_bgcolor="white",
                  barmode="stack", bargap=0, showlegend=False, font=dict(family=FONT),
                  annotations=annotations, shapes=shapes, **layout)
fig.write_html("out.html", config=dict(displayModeBar=False),
               post_script="document.body.style.margin='0';document.documentElement.style.overflow='hidden';")
